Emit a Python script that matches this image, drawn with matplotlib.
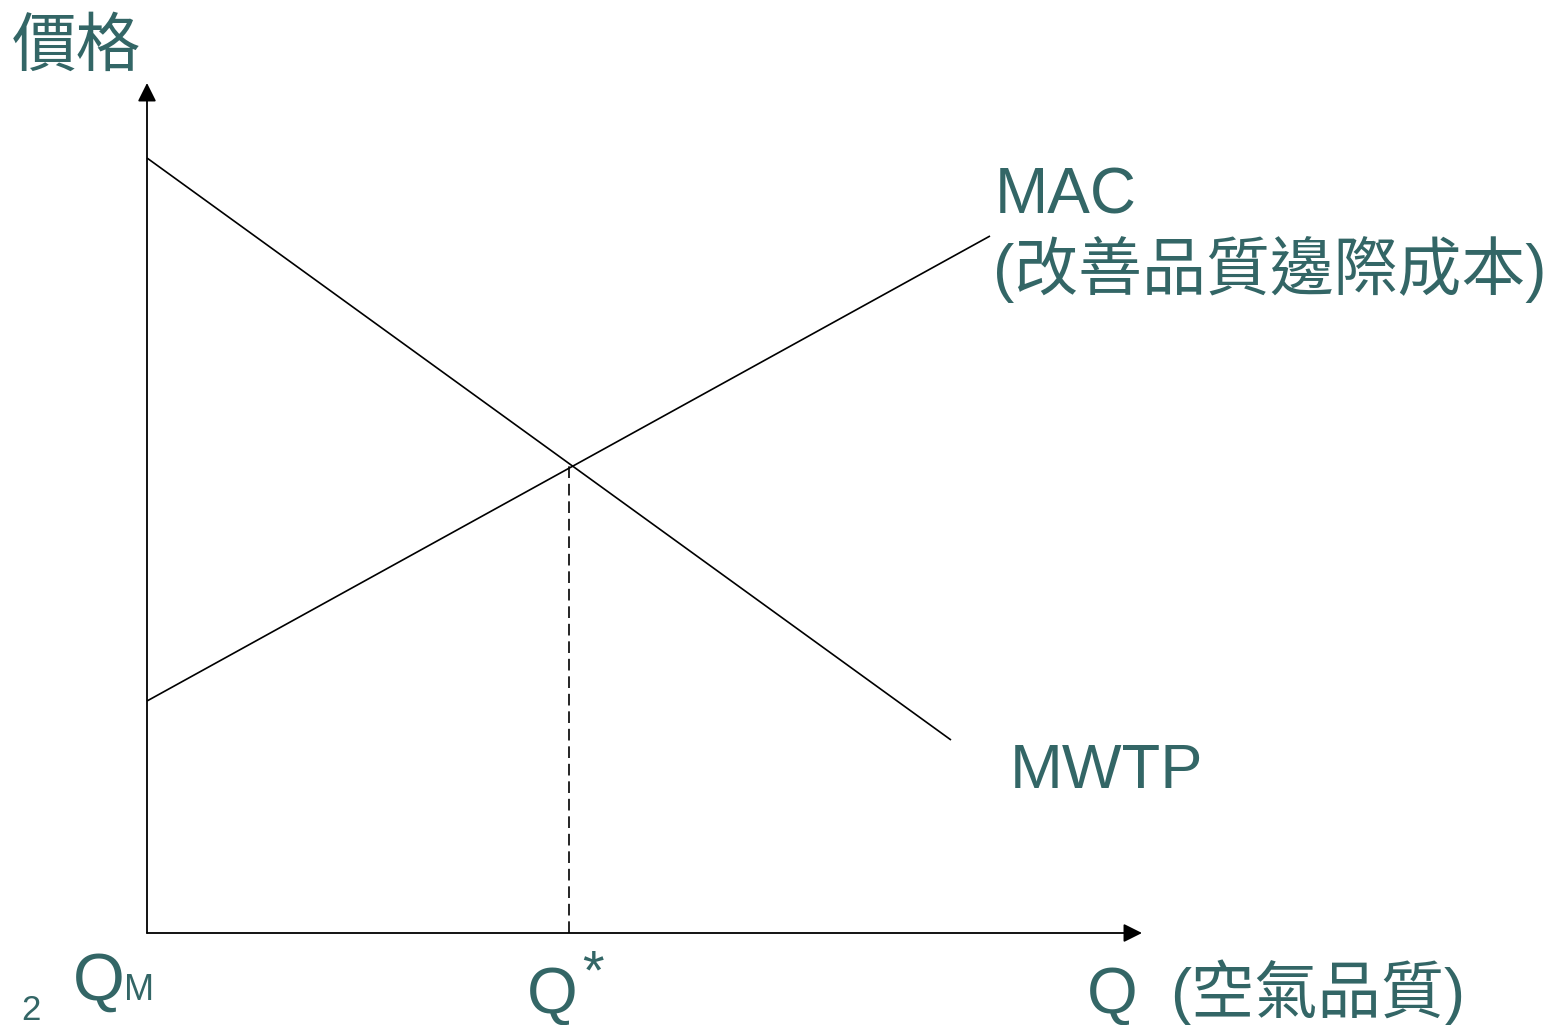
import matplotlib
matplotlib.use("Agg")
import matplotlib.pyplot as plt

# ---- data (abstract units: quantity of air quality, price) ----
mwtp_q = [0.0, 8.04]
mwtp_p = [7.75, 1.93]
mac_q = [0.0, 8.43]
mac_p = [2.32, 6.97]
q_star = 4.22
p_star = 4.67
x_axis_end = 9.95
y_axis_end = 8.50

y_label = "價格"
mac_label = "MAC"
mac_desc = "(改善品質邊際成本)"
mwtp_label = "MWTP"
x_label_q = "Q"
x_label_desc = "(空氣品質)"
page_no = "2"

TEAL = "#336666"
FAM = ["Liberation Sans", "Noto Sans CJK TC"]

fig = plt.figure(figsize=(15.51, 10.25), dpi=100)
ax = fig.add_axes([0, 0, 1, 1])
ax.set_xlim(-1.47, 14.04)
ax.set_ylim(-0.92, 9.33)
ax.axis("off")

# axes arrows
arrow_kw = dict(arrowstyle="-|>", color="black", lw=1.3, mutation_scale=28,
                shrinkA=0, shrinkB=0)
ax.annotate("", xy=(0, y_axis_end), xytext=(0, 0), arrowprops=arrow_kw)
ax.annotate("", xy=(x_axis_end, 0), xytext=(0, 0), arrowprops=arrow_kw)

# curves
ax.plot(mwtp_q, mwtp_p, color="black", lw=1.2, solid_capstyle="butt")
ax.plot(mac_q, mac_p, color="black", lw=1.2, solid_capstyle="butt")
ax.plot([q_star, q_star], [0, p_star], color="black", lw=1.2,
        dashes=(7, 3.5))

# texts
ax.text(-1.35, 8.67, y_label, color=TEAL, fontsize=46.5, family=FAM, va="baseline")
ax.text(8.48, 7.20, mac_label, color=TEAL, fontsize=46, family=FAM, va="baseline")
ax.text(8.46, 6.43, mac_desc, color=TEAL, fontsize=46, family=FAM, va="baseline")
ax.text(8.63, 1.45, mwtp_label, color=TEAL, fontsize=45.5, family=FAM, va="baseline")

ax.text(-0.74, -0.67, "Q", color=TEAL, fontsize=48, family=FAM, va="baseline")
ax.text(-0.23, -0.67, "M", color=TEAL, fontsize=26, family=FAM, va="baseline")
ax.text(-1.26, -0.87, page_no, color=TEAL, fontsize=25, family=FAM, va="baseline")

ax.text(3.80, -0.80, "Q", color=TEAL, fontsize=47, family=FAM, va="baseline")
ax.text(4.35, -0.15, "*", color=TEAL, fontsize=40, family=FAM, va="top",
        fontweight="light")

ax.text(9.40, -0.80, x_label_q, color=TEAL, fontsize=47, family=FAM, va="baseline")
ax.text(10.23, -0.80, x_label_desc, color=TEAL, fontsize=45.5, family=FAM, va="baseline")

fig.savefig("out.png", dpi=100)
